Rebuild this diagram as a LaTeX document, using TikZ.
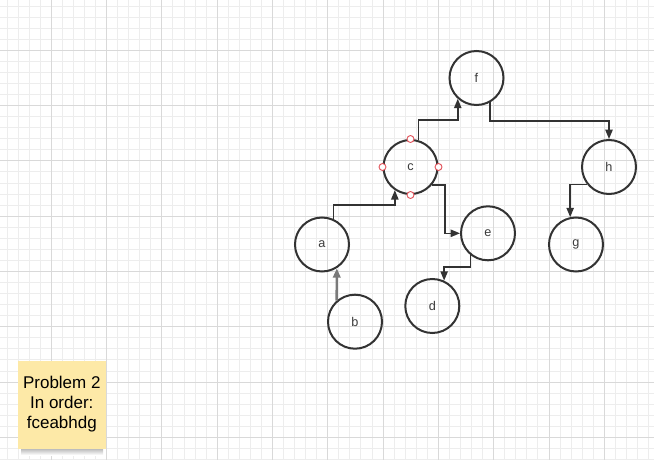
\documentclass[tikz,border=0pt]{standalone}
\usepackage{fontspec}
\setmainfont{Liberation Sans}
\usetikzlibrary{arrows.meta}
\definecolor{GridMinor}{HTML}{EDEDED}
\definecolor{GridMajor}{HTML}{D9D9D9}
\definecolor{TreeLine}{HTML}{333333}
\definecolor{TreeText}{HTML}{3C3C3C}
\definecolor{LinkSel}{HTML}{7A7A7A}
\definecolor{HandleRed}{HTML}{E2535B}
\definecolor{NoteYellow}{HTML}{FDE9A7}

\begin{document}
\begin{tikzpicture}[x=0.75pt,y=-0.75pt,
    treenode/.style={circle, draw=TreeLine, line width=1.5pt, minimum size=40.5pt,
      inner sep=0pt, text=TreeText, font=\fontsize{9.5}{11}\selectfont},
    link/.style={draw=TreeLine, line width=1.1pt, -{Triangle[length=7pt,width=5.5pt]}},
    handle/.style={circle, draw=HandleRed, fill=white, line width=0.7pt,
      minimum size=5.2pt, inner sep=0pt},
    sticky/.style={fill=NoteYellow, minimum width=66pt, minimum height=66pt,
      align=center, inner sep=0pt, font=\fontsize{12.75}{15}\selectfont}]
    \useasboundingbox (0,0) rectangle (654,460);
    \fill[white] (0,0) rectangle (654,460);
    % grid
    \foreach \k in {0,...,59}
      \draw[GridMinor, line width=0.75pt] ({-4+11.06*\k},0) -- ({-4+11.06*\k},460);
    \foreach \k in {0,...,42}
      \draw[GridMinor, line width=0.75pt] (0,{-5+11.06*\k}) -- (654,{-5+11.06*\k});
    \foreach \k in {0,...,11}
      \draw[GridMajor, line width=0.75pt] ({-4+55.3*\k},0) -- ({-4+55.3*\k},460);
    \foreach \k in {0,...,8}
      \draw[GridMajor, line width=0.75pt] (0,{-5+55.3*\k}) -- (654,{-5+55.3*\k});

    % tree
    \node[treenode] (f) at (476.5,78) {f};
    \node[treenode] (c) at (410.5,167) {c};
    \node[treenode] (h) at (609,167) {h};
    \node[treenode] (a) at (322,244.5) {a};
    \node[treenode] (e) at (488,233.3) {e};
    \node[treenode] (g) at (576,244.5) {g};
    \node[treenode] (d) at (432.3,306) {d};
    \node[treenode] (b) at (355,321.7) {b};

    \draw[link] (c.73) -- ++(0,-20) -| (f.228);
    \draw[link] (f.-61) -- ++(0,18.5) -| (h.north);
    \draw[link] (c.-40) -- ++(13,0) |- (e.west);
    \draw[link] (e.231) -- ++(0,12) -| (d.65);
    \draw[link] (a.66) -- ++(0,-14) -| (c.236);
    \draw[link, draw=LinkSel, line width=1.8pt] (b.131) -- (a.-58);
    \draw[link] (h.218) -| (g.102);

    \foreach \s in {north,south,east,west}
      \node[handle] (c-\s) at (c.\s) {};

    % note
    \shade[top color=black!30, bottom color=white] (21,448) rectangle (103,455);
    \node[sticky] (note) at (61.8,404.5) {Problem 2\\In order:\\fceabhdg};
  \end{tikzpicture}
\end{document}
